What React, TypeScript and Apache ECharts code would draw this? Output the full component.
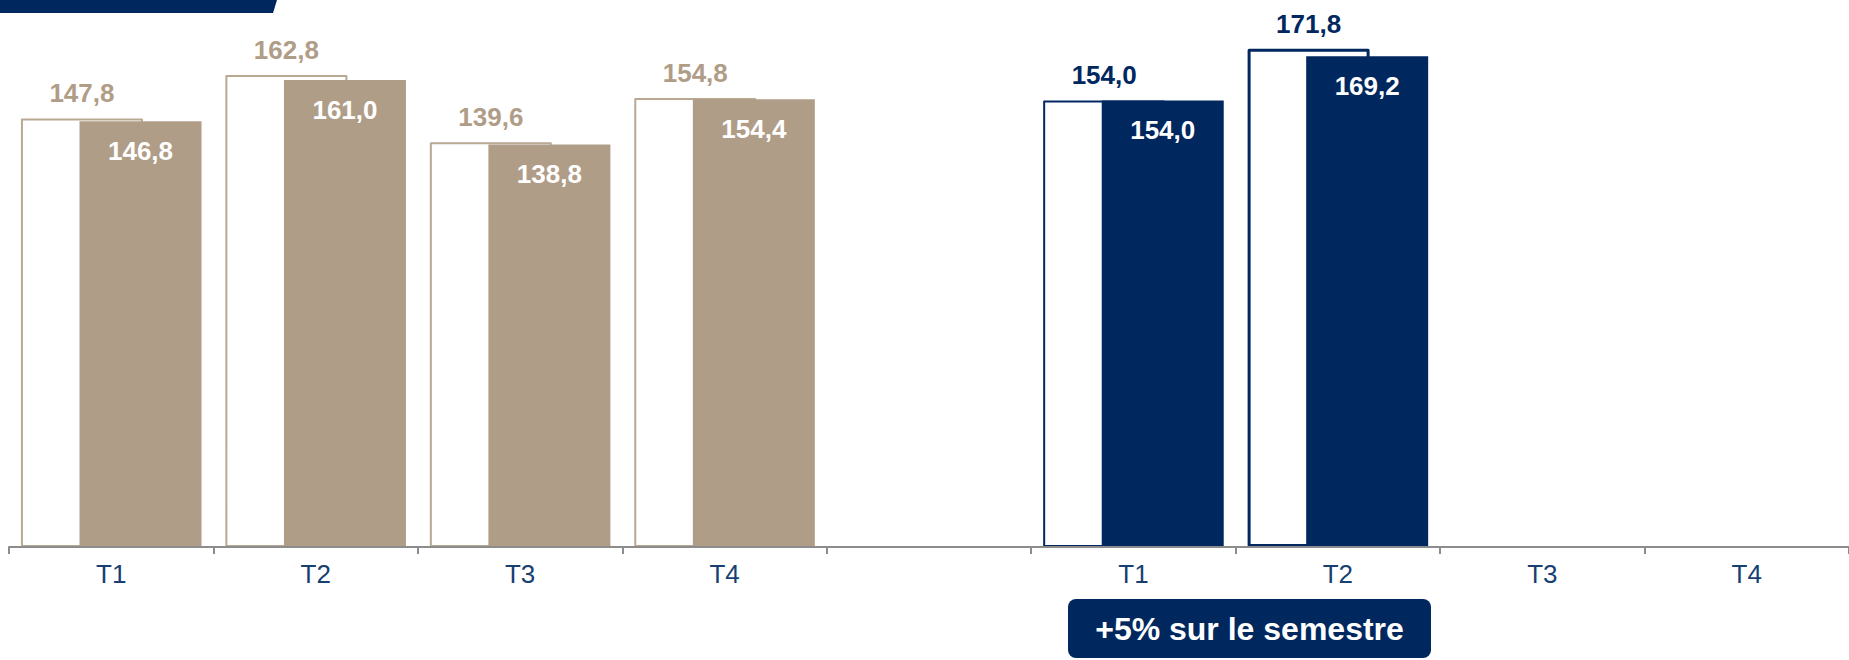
import React, { useEffect, useRef } from "react";
import * as echarts from "echarts";

const categories = ["T1", "T2", "T3", "T4", "", "T1", "T2", "T3", "T4"];
const previousValues = [147.8, 162.8, 139.6, 154.8, null, 154.0, 171.8, null, null];
const currentValues = [146.8, 161.0, 138.8, 154.4, null, 154.0, 169.2, null, null];
const groupOfCategory = ["past", "past", "past", "past", "none", "now", "now", "now", "now"];
const badgeText = "+5% sur le semestre";

const TAN = "#B09D87";
const TAN_LINE = "#B9A892";
const NAVY = "#00285E";
const AXIS_LABEL = "#173F72";
const FONT = "'Liberation Sans', Arial, sans-serif";

const fmt = (v: number) => v.toFixed(1).replace(".", ",");

export default function App() {
  const ref = useRef<HTMLDivElement>(null);

  useEffect(() => {
    if (!ref.current) return;
    const chart = echarts.init(ref.current, null, { renderer: "svg" });

    const prevData = previousValues.map((v, i) => {
      if (v == null) return null;
      const now = groupOfCategory[i] === "now";
      const col = now ? NAVY : TAN;
      return {
        value: v,
        itemStyle: {
          color: "#FFFFFF",
          borderColor: now ? NAVY : TAN_LINE,
          borderWidth: now && i === 6 ? 3 : 2,
          borderJoin: "round",
        },
        label: { color: col },
      };
    });

    const curData = currentValues.map((v, i) => {
      if (v == null) return null;
      const now = groupOfCategory[i] === "now";
      return {
        value: v,
        itemStyle: { color: now ? NAVY : TAN },
      };
    });

    chart.setOption({
      animation: false,
      grid: { left: 9, right: 0, top: 25, bottom: 113, containLabel: false },
      xAxis: {
        type: "category",
        data: categories,
        z: 5,
        axisLine: { show: true, lineStyle: { color: "#8C8C8C", width: 2 } },
        axisTick: { show: true, length: 7, lineStyle: { color: "#8C8C8C", width: 2 } },
        axisLabel: {
          interval: 0,
          margin: 14,
          color: AXIS_LABEL,
          fontSize: 26,
          fontFamily: FONT,
        },
      },
      yAxis: {
        type: "value",
        min: 0,
        max: 180,
        show: false,
        splitLine: { show: false },
      },
      series: [
        {
          type: "bar",
          name: "prev",
          data: prevData,
          barWidth: 122,
          barGap: "-52%",
          z: 2,
          label: {
            show: true,
            position: "top",
            distance: 12,
            fontSize: 26,
            fontWeight: "bold",
            fontFamily: FONT,
            formatter: (p: any) => fmt(p.value),
          },
        },
        {
          type: "bar",
          name: "cur",
          data: curData,
          barWidth: 122,
          z: 3,
          label: {
            show: true,
            position: "insideTop",
            distance: 17,
            color: "#FFFFFF",
            fontSize: 26,
            fontWeight: "bold",
            fontFamily: FONT,
            formatter: (p: any) => fmt(p.value),
          },
        },
      ],
      graphic: [
        {
          type: "polygon",
          shape: { points: [[0, 0], [277, 0], [273, 13], [0, 13]] },
          style: { fill: NAVY },
        },
        {
          type: "rect",
          left: 1068,
          top: 599,
          shape: { width: 363, height: 59, r: 8 },
          style: { fill: NAVY },
        },
        {
          type: "text",
          x: 1249.5,
          y: 629,
          style: {
            text: badgeText,
            fill: "#FFFFFF",
            font: `bold 32px ${FONT}`,
            textAlign: "center",
            textVerticalAlign: "middle",
          },
        },
      ],
    });

    return () => chart.dispose();
  }, []);

  return (
    <div
      ref={ref}
      style={{ position: "absolute", left: 0, top: 0, width: 1849, height: 660 }}
    />
  );
}
